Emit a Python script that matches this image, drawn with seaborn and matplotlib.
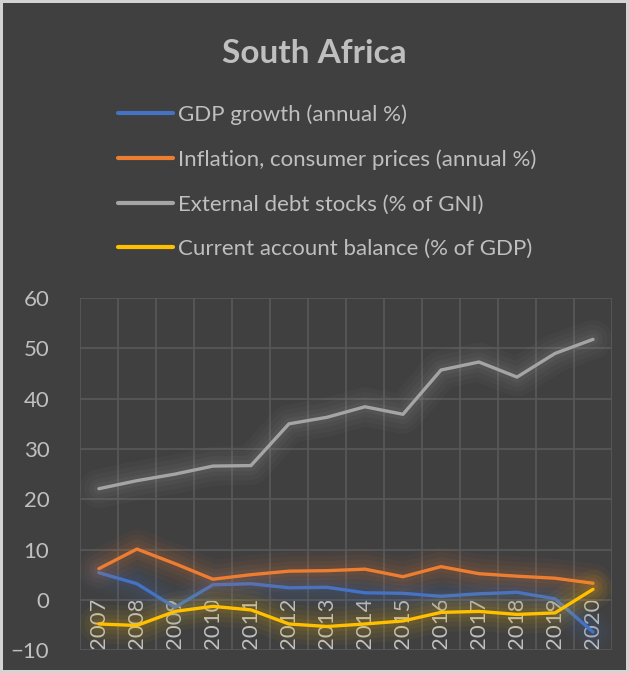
import pandas as pd
import seaborn as sns
import matplotlib.pyplot as plt
import matplotlib.patheffects as pe
from matplotlib.lines import Line2D

# ---------------------------------------------------------
# DATA
# ---------------------------------------------------------
years = [2007, 2008, 2009, 2010, 2011, 2012, 2013, 2014, 2015, 2016, 2017, 2018, 2019, 2020]
gdp_growth = [5.4, 3.2, -1.5, 3.0, 3.2, 2.4, 2.5, 1.4, 1.3, 0.7, 1.2, 1.5, 0.2, -6.4]
inflation = [6.2, 10.1, 7.2, 4.1, 5.0, 5.7, 5.8, 6.1, 4.6, 6.6, 5.2, 4.7, 4.3, 3.3]
ext_debt = [22.1, 23.7, 25.0, 26.6, 26.7, 35.0, 36.3, 38.4, 36.9, 45.7, 47.3, 44.3, 49.0, 51.8]
current_acc = [-4.8, -5.1, -2.3, -1.3, -2.0, -4.8, -5.3, -4.8, -4.2, -2.5, -2.3, -2.9, -2.6, 2.1]

series_names = ['GDP growth (annual %)',
                'Inflation, consumer prices (annual %)',
                'External debt stocks (% of GNI)',
                'Current account balance (% of GDP)']
colors = ['#4472c4', '#ed7d31', '#a5a5a5', '#ffc000']

BG = '#404040'
TXT = '#bfbfbf'
GRID = '#595959'

df = pd.DataFrame({
    'year': [str(y) for y in years] * 4,
    'value': gdp_growth + inflation + ext_debt + current_acc,
    'serie': sum([[n] * len(years) for n in series_names], []),
})

# ---------------------------------------------------------
# PLOT
# ---------------------------------------------------------
sns.set_style("dark")
plt.rcParams['font.family'] = ['Lato', 'DejaVu Sans']

fig = plt.figure(figsize=(6.29, 6.73), dpi=100, facecolor=BG)
fig.patch.set_edgecolor('#d4d4d4')
fig.patch.set_linewidth(3)
ax = fig.add_axes([0.127, 0.034, 0.846, 0.523])
ax.set_facecolor(BG)

sns.lineplot(data=df, x='year', y='value', hue='serie', palette=dict(zip(series_names, colors)),
             hue_order=series_names, linewidth=2.4, ax=ax, legend=False, sort=False)

# glow like Excel (soft, wide)
for line in ax.get_lines():
    c = line.get_color()
    line.set_path_effects([
        pe.Stroke(linewidth=28, foreground=c, alpha=0.045),
        pe.Stroke(linewidth=21, foreground=c, alpha=0.05),
        pe.Stroke(linewidth=14, foreground=c, alpha=0.06),
        pe.Stroke(linewidth=8, foreground=c, alpha=0.07),
        pe.Normal(),
    ])

ax.set_ylim(-10, 60)
ax.set_yticks(range(-10, 61, 10))
ax.set_xlim(-0.5, len(years) - 0.5)
ax.set_xticks(range(len(years)))
ax.set_xticklabels([str(y) for y in years], rotation=90)
ax.set_xticks([i - 0.5 for i in range(len(years) + 1)], minor=True)

ax.grid(False)
ax.grid(axis='y', which='major', color=GRID, linewidth=1.2)
ax.grid(axis='x', which='minor', color=GRID, linewidth=1.2)
ax.tick_params(axis='x', which='both', length=0, pad=-38, labelsize=16, colors=TXT)
ax.tick_params(axis='y', length=0, pad=22, labelsize=16, colors=TXT)
for lbl in ax.get_yticklabels():
    lbl.set_horizontalalignment('right')
for s in ax.spines.values():
    s.set_visible(False)
ax.set_xlabel("")
ax.set_ylabel("")

fig.text(0.5, 0.92, "South Africa", ha='center', va='center', fontsize=24,
         fontweight='bold', color=TXT)

handles = [Line2D([0], [0], color=c, linewidth=3) for c in colors]
fig.legend(handles, series_names, loc='upper left', bbox_to_anchor=(0.187, 0.845),
           frameon=False, fontsize=16, labelcolor=TXT, handlelength=2.5,
           handletextpad=0.2, labelspacing=1.1, borderaxespad=0, borderpad=0)

plt.savefig('out.png', dpi=100, facecolor=fig.get_facecolor(), edgecolor=fig.patch.get_edgecolor())
plt.close()
